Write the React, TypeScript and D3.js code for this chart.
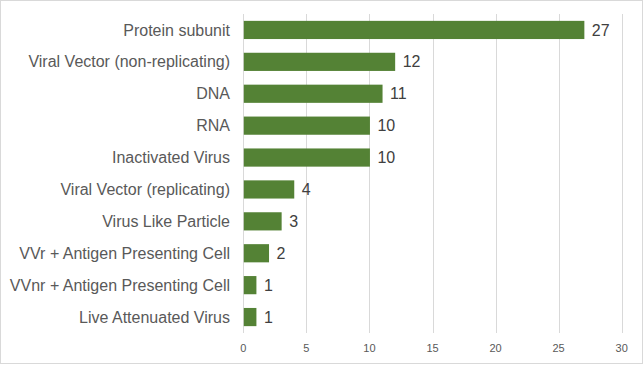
import React, { useRef, useEffect } from 'react';
import * as d3 from 'd3';

const categories = [
  'Protein subunit',
  'Viral Vector (non-replicating)',
  'DNA',
  'RNA',
  'Inactivated Virus',
  'Viral Vector (replicating)',
  'Virus Like Particle',
  'VVr + Antigen Presenting Cell',
  'VVnr + Antigen Presenting Cell',
  'Live Attenuated Virus',
];
const counts = [27, 12, 11, 10, 10, 4, 3, 2, 1, 1];
const xTicks = [0, 5, 10, 15, 20, 25, 30];

const W = 643;
const H = 365;

const draw = (svgRef: React.RefObject<SVGSVGElement>) => {
  const svg = d3.select(svgRef.current);
  svg.selectAll('*').remove();

  const margin = { left: 243.3, right: 21.3, top: 14, bottom: 32 };
  const font = '"Liberation Sans", Arial, sans-serif';

  // frame
  svg.append('rect')
    .attr('x', 0.5).attr('y', 0.5)
    .attr('width', W - 1).attr('height', H - 2)
    .attr('fill', '#fff')
    .attr('stroke', '#d9d9d9');

  const x = d3.scaleLinear()
    .domain([0, 30])
    .range([margin.left, W - margin.right]);

  const y = d3.scaleBand()
    .domain(categories)
    .range([margin.top, H - margin.bottom])
    .paddingInner(0.43)
    .paddingOuter(0.215);

  // gridlines
  svg.append('g')
    .selectAll('line')
    .data(xTicks)
    .join('line')
    .attr('x1', d => Math.round(x(d)) + 0.5)
    .attr('x2', d => Math.round(x(d)) + 0.5)
    .attr('y1', margin.top)
    .attr('y2', H - margin.bottom)
    .attr('stroke', '#d9d9d9')
    .attr('stroke-width', 1);

  // tick labels
  svg.append('g')
    .selectAll('text')
    .data(xTicks)
    .join('text')
    .attr('x', d => x(d))
    .attr('y', 352)
    .attr('text-anchor', 'middle')
    .attr('font-family', font)
    .attr('font-size', 11)
    .attr('fill', '#595959')
    .text(d => d);

  // bars
  svg.append('g')
    .selectAll('rect')
    .data(categories)
    .join('rect')
    .attr('x', x(0) + 0.5)
    .attr('y', d => y(d)!)
    .attr('width', (d, i) => x(counts[i]) - x(0))
    .attr('height', y.bandwidth())
    .attr('fill', '#548235');

  // category labels
  svg.append('g')
    .selectAll('text')
    .data(categories)
    .join('text')
    .attr('x', 230)
    .attr('y', d => y(d)! + y.bandwidth() / 2)
    .attr('dy', '0.35em')
    .attr('text-anchor', 'end')
    .attr('font-family', font)
    .attr('font-size', 16)
    .attr('fill', '#595959')
    .text(d => d);

  // value labels
  svg.append('g')
    .selectAll('text')
    .data(categories)
    .join('text')
    .attr('x', (d, i) => x(counts[i]) + 8)
    .attr('y', d => y(d)! + y.bandwidth() / 2)
    .attr('dy', '0.35em')
    .attr('font-family', font)
    .attr('font-size', 16)
    .attr('fill', '#404040')
    .text((d, i) => counts[i]);
};

export default function App() {
  const svgRef = useRef<SVGSVGElement>(null);

  useEffect(() => {
    draw(svgRef);
  }, []);

  return (
    <svg
      ref={svgRef}
      width={W}
      height={H}
      style={{ position: 'absolute', left: 0, top: 0 }}
    />
  );
}
